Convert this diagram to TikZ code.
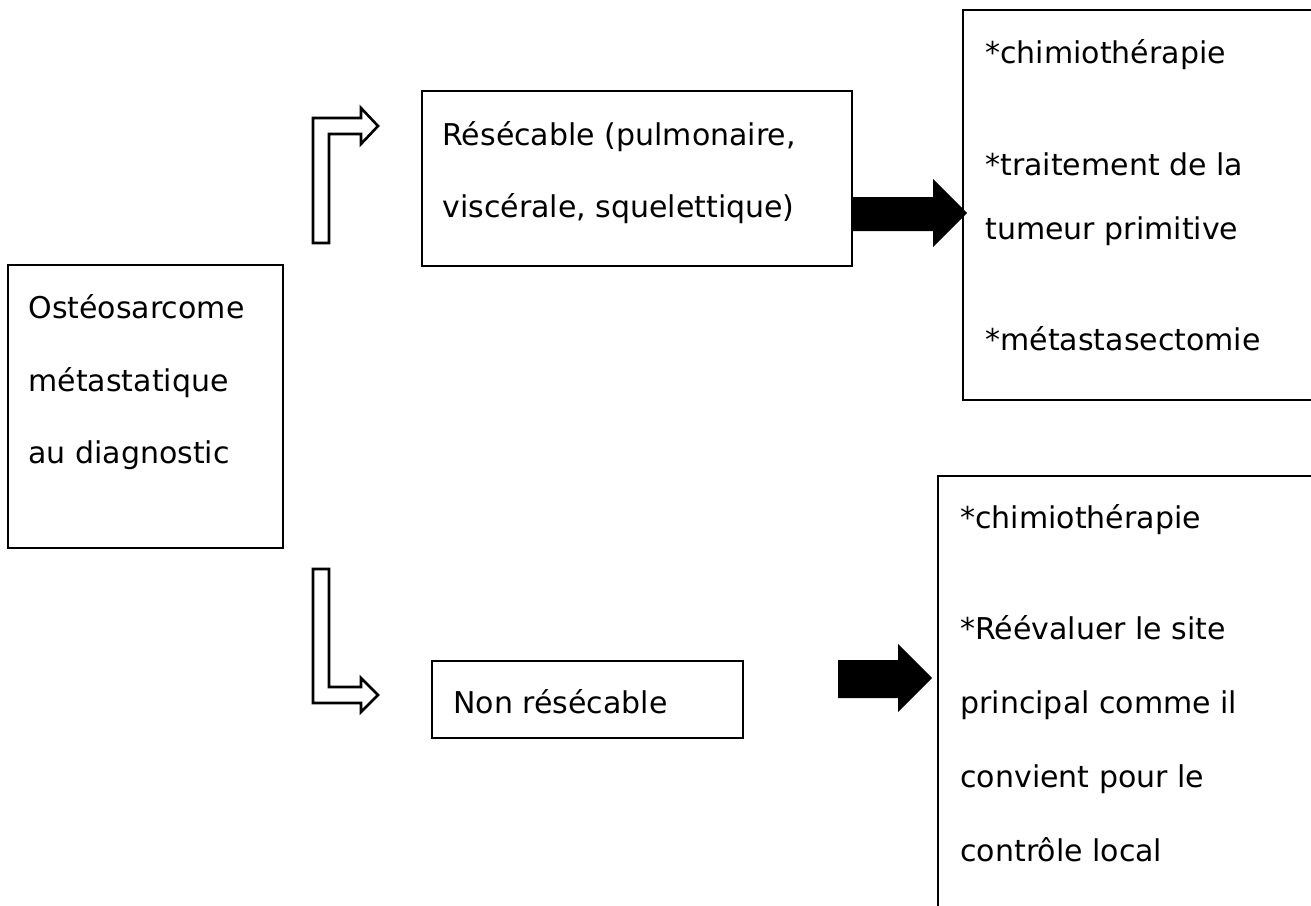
\documentclass[tikz,border=0pt]{standalone}
\usepackage{fontspec}
\setmainfont{DejaVu Sans}

\tikzset{
	box/.style={shape=rectangle,draw=black,line width=0.8pt,inner sep=0pt},
	txt/.style={anchor=base west,inner sep=0pt,font=\fontsize{15}{18}\selectfont},
	hollowarrow/.style={draw=black,line width=1.3pt,fill=white,line join=miter},
	blockarrow/.style={fill=black,draw=none}
}

\begin{document}
\begin{tikzpicture}[x=0.5pt,y=-0.5pt]
	
	\useasboundingbox (0,0) rectangle (1311,905);
	\clip (0,0) rectangle (1311,905);
	
	\node[box,minimum width=137.5pt,minimum height=141.5pt] (diag)   at (145.5,406.5) {};
	\node[box,minimum width=215pt,minimum height=87.5pt]    (resec)  at (637,178.5)   {};
	\node[box,minimum width=155.5pt,minimum height=38.5pt]  (nonres) at (587.5,699.5) {};
	\node[box,minimum width=183.5pt,minimum height=195pt]   (ttres)  at (1146.5,205)  {};
	\node[box,minimum width=196pt,minimum height=227pt]     (ttnon)  at (1134,703)    {};
	
	\foreach \t/\y [count=\i] in {Ostéosarcome/318, métastatique/391, au diagnostic/463}
		\node[txt] (diagtxt\i) at (28,\y) {\t};
	\foreach \t/\y [count=\i] in {{Résécable (pulmonaire,}/145, {viscérale, squelettique)}/217}
		\node[txt] (resectxt\i) at (442,\y) {\t};
	\node[txt] (nonrestxt) at (453,713) {Non résécable};
	\foreach \t/\y [count=\i] in {*chimiothérapie/63, *traitement de la/175, tumeur primitive/239, *métastasectomie/350}
		\node[txt] (ttrestxt\i) at (985,\y) {\t};
	\foreach \t/\y [count=\i] in {*chimiothérapie/528, *Réévaluer le site/639, principal comme il/713, convient pour le/787, contrôle local/861}
		\node[txt] (ttnontxt\i) at (960,\y) {\t};
	
	\draw[hollowarrow] (313,243) -- (313,118) -- (361,118) -- (361,108) -- (378,126) -- (361,144) -- (361,134) -- (329,134) -- (329,243) -- cycle;
	\draw[hollowarrow] (313,569) -- (329,569) -- (329,687) -- (361,687) -- (361,678) -- (378,695) -- (361,712) -- (361,703) -- (313,703) -- cycle;
	
	\fill[blockarrow] (851,197) -- (933,197) -- (933,179) -- (967,213) -- (933,247) -- (933,231) -- (851,231) -- cycle;
	\fill[blockarrow] (838,660) -- (898,660) -- (898,644) -- (932,678) -- (898,712) -- (898,698) -- (838,698) -- cycle;
	
\end{tikzpicture}
\end{document}
